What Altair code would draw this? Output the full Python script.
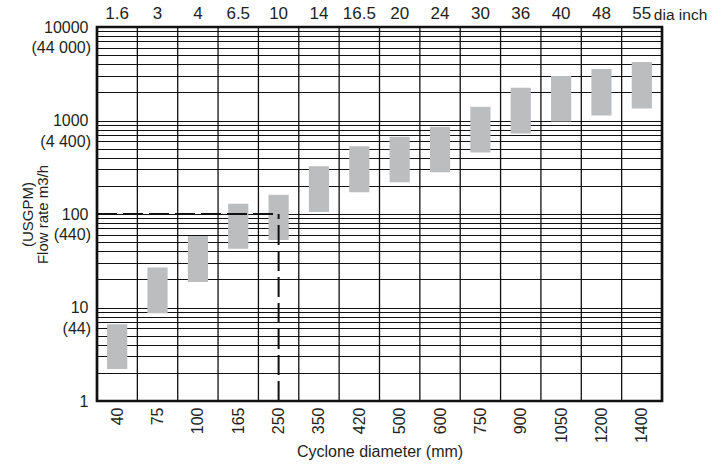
import json
import altair as alt
import pandas as pd

# ---- data ----
mm_labels = ["40", "75", "100", "165", "250", "350", "420", "500", "600",
             "750", "900", "1050", "1200", "1400"]
inch_labels = ["1.6", "3", "4", "6.5", "10", "14", "16.5", "20", "24",
               "30", "36", "40", "48", "55"]
flow_min = [2.2, 8.7, 18.7, 42.5, 52.6, 105, 171, 218, 279, 456, 728, 977, 1132, 1345]
flow_max = [6.6, 26.7, 58, 129, 161, 324, 529, 671, 858, 1402, 2235, 3000, 3565, 4235]
usgpm_at = [10, 100, 1000, 10000]
usgpm_text = ["(44)", "(440)", "(4 400)", "(44 000)"]
decade_values = [1, 10, 100, 1000, 10000]
design_flow = 100      # m3/h reading line
design_col = 4         # index of the 250 mm column

n = len(mm_labels)
idx = list(range(n))
bars = pd.DataFrame({"i": idx, "lo": flow_min, "hi": flow_max})
bounds = pd.DataFrame({"b": [i + 0.5 for i in idx[:-1]]})
inch_df = pd.DataFrame({"i": idx, "t": inch_labels})
usgpm_df = pd.DataFrame({"v": usgpm_at, "t": usgpm_text})
grid_vals = [m * 10 ** k for k in range(4) for m in range(1, 10)] + [10000]

FONT = "Liberation Sans"
INK = "#231f20"

xs = alt.Scale(domain=[-0.5, n - 0.5], nice=False, zero=False)
ys = alt.Scale(type="log", domain=[1, 10000], nice=False)
is_decade = " || ".join(f"datum.value == {v}" for v in decade_values)

X_AXIS = alt.Axis(
    values=idx, labelExpr=f"{json.dumps(mm_labels)}[datum.value]",
    labelAngle=270, grid=False, ticks=False, domain=False,
    labelPadding=6, labelFontSize=16, labelFont=FONT, labelColor=INK,
    labelOverlap=False, labelFlush=False,
    title="Cyclone diameter (mm)", titleFontSize=16, titleFont=FONT,
    titleFontWeight="normal", titleColor=INK, titleY=42, titleBaseline="top")
Y_AXIS = alt.Axis(
    values=grid_vals, grid=True, gridColor="#111", gridWidth=1, gridOpacity=1,
    ticks=False, domain=False,
    labelExpr=f"({is_decade}) ? format(datum.value, 'd') : ''",
    labelOverlap=False, labelFlush=False, labelPadding=9,
    labelFontSize=16, labelFont=FONT, labelColor=INK,
    title=["(USGPM)", "Flow rate m3/h"], titleFontSize=15, titleLineHeight=15,
    titleFont=FONT, titleFontWeight="normal", titleColor=INK,
    titleX=-62, titleBaseline="bottom")

grid_v = alt.Chart(bounds).mark_rule(color="#111", strokeWidth=1.3).encode(
    x=alt.X("b:Q", scale=xs, axis=X_AXIS)
)

bar_layer = alt.Chart(bars).transform_calculate(
    x1="datum.i - 0.25", x2="datum.i + 0.25"
).mark_rect(color="#bcbdbf").encode(
    x=alt.X("x1:Q", scale=xs, axis=X_AXIS),
    x2="x2:Q",
    y=alt.Y("lo:Q", scale=ys, axis=Y_AXIS),
    y2="hi:Q",
)

ref_h = alt.Chart(pd.DataFrame({"a": [-0.5], "b": [design_col], "f": [design_flow]})).mark_rule(
    color="#111", strokeWidth=2, strokeDash=[20, 6]
).encode(
    x=alt.X("a:Q", scale=xs, axis=X_AXIS), x2="b:Q",
    y=alt.Y("f:Q", scale=ys, axis=Y_AXIS),
)
ref_v = alt.Chart(pd.DataFrame({"c": [design_col], "lo": [1], "f": [design_flow]})).mark_rule(
    color="#111", strokeWidth=2, strokeDash=[20, 6]
).encode(
    x=alt.X("c:Q", scale=xs, axis=X_AXIS),
    y=alt.Y("lo:Q", scale=ys, axis=Y_AXIS), y2="f:Q",
)

top_labels = alt.Chart(inch_df).mark_text(
    font=FONT, fontSize=17, color=INK, baseline="bottom", align="center"
).encode(
    x=alt.X("i:Q", scale=xs, axis=X_AXIS), y=alt.value(-4), text="t:N"
)
top_unit = alt.Chart(pd.DataFrame({"i": [n - 1], "t": ["dia inch"]})).mark_text(
    font=FONT, fontSize=15.5, color=INK, baseline="bottom", align="left", dx=12
).encode(
    x=alt.X("i:Q", scale=xs, axis=X_AXIS), y=alt.value(-4), text="t:N"
)

usgpm_layer = alt.Chart(usgpm_df).mark_text(
    font=FONT, fontSize=16, color=INK, baseline="middle", align="right", dy=21
).encode(
    x=alt.value(-6), y=alt.Y("v:Q", scale=ys, axis=Y_AXIS), text="t:N"
)

chart = alt.layer(
    grid_v, bar_layer, ref_h, ref_v, top_labels, top_unit, usgpm_layer
).properties(
    width=565, height=374,
    autosize=alt.AutoSizeParams(type="none"),
    padding={"left": 97, "top": 27, "right": 52, "bottom": 63},
    background="white",
).configure_view(stroke="#111", strokeWidth=2.7)

chart.save("out.html", embed_options={"renderer": "svg", "actions": False})
